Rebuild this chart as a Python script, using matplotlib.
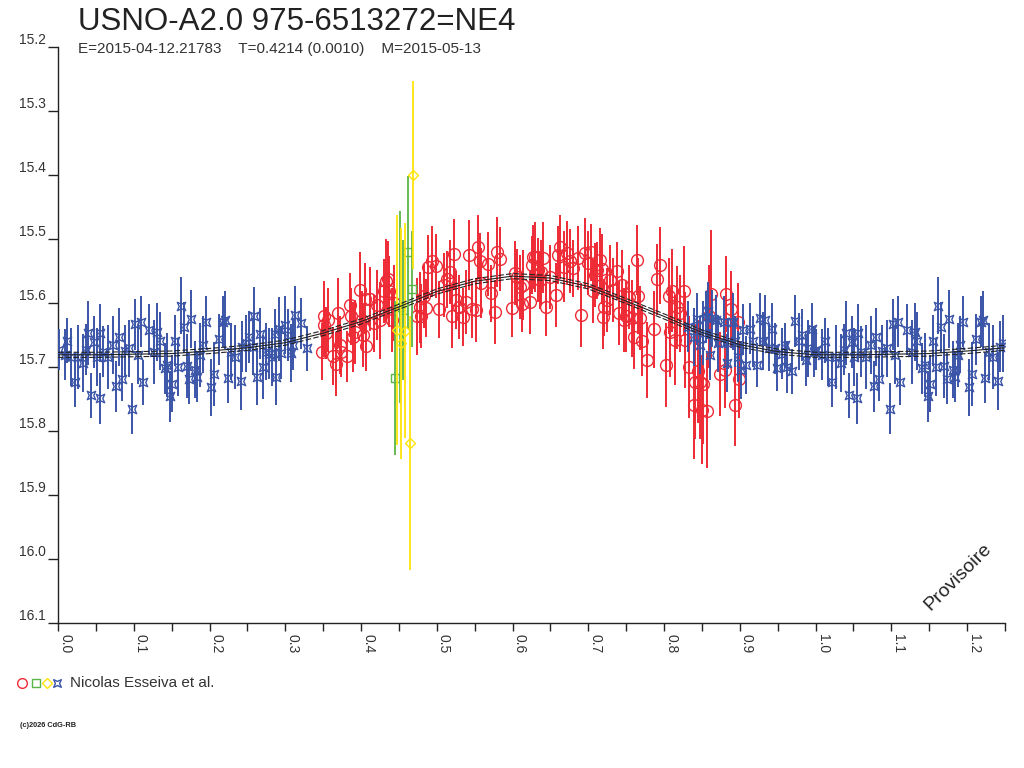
import numpy as np
import matplotlib
matplotlib.use("Agg")
import matplotlib.pyplot as plt
from matplotlib.path import Path
from matplotlib.lines import Line2D

plt.rcParams['font.family'] = ['Liberation Sans', 'DejaVu Sans']

# ---------------- data ----------------
title = "USNO-A2.0 975-6513272=NE4"
subtitle = "E=2015-04-12.21783    T=0.4214 (0.0010)    M=2015-05-13"
observer = "Nicolas Esseiva et al."
copyright_txt = "(c)2026 CdG-RB"
stamp = "Provisoire"

# blue series (phase 0 - 0.33)
blue_phase_a = [0.001, 0.009, 0.012, 0.017, 0.022, 0.027, 0.033, 0.037, 0.040, 0.044,
                0.048, 0.051, 0.055, 0.056, 0.060, 0.066, 0.073, 0.077, 0.080, 0.084,
                0.088, 0.094, 0.098, 0.102, 0.105, 0.109, 0.112, 0.120, 0.127, 0.131,
                0.134, 0.141, 0.144, 0.148, 0.151, 0.155, 0.159, 0.162, 0.166, 0.170,
                0.173, 0.176, 0.181, 0.184, 0.188, 0.191, 0.195, 0.202, 0.206, 0.212,
                0.218, 0.221, 0.224, 0.229, 0.234, 0.241, 0.243, 0.248, 0.252, 0.257,
                0.259, 0.263, 0.266, 0.271, 0.275, 0.279, 0.282, 0.286, 0.288, 0.292,
                0.295, 0.299, 0.303, 0.307, 0.310, 0.313, 0.321, 0.329]
blue_mag_a = [15.673, 15.681, 15.659, 15.684, 15.723, 15.684, 15.694, 15.673, 15.647, 15.744,
              15.661, 15.684, 15.749, 15.647, 15.676, 15.684, 15.666, 15.730, 15.653, 15.718,
              15.675, 15.671, 15.765, 15.633, 15.681, 15.629, 15.724, 15.642, 15.676, 15.645,
              15.659, 15.702, 15.697, 15.746, 15.726, 15.659, 15.700, 15.604, 15.638, 15.698,
              15.718, 15.625, 15.704, 15.715, 15.681, 15.665, 15.629, 15.732, 15.711, 15.657,
              15.629, 15.627, 15.717, 15.676, 15.684, 15.722, 15.668, 15.663, 15.653, 15.668,
              15.620, 15.715, 15.648, 15.700, 15.676, 15.679, 15.684, 15.649, 15.715, 15.640,
              15.678, 15.634, 15.650, 15.678, 15.665, 15.618, 15.632, 15.671]
blue_err_a = [0.032, 0.040, 0.035, 0.045, 0.040, 0.050, 0.045, 0.040, 0.050, 0.035,
              0.040, 0.045, 0.040, 0.045, 0.040, 0.050, 0.045, 0.040, 0.045, 0.035,
              0.040, 0.045, 0.040, 0.040, 0.045, 0.040, 0.035, 0.040, 0.050, 0.045,
              0.045, 0.040, 0.050, 0.040, 0.045, 0.040, 0.045, 0.045, 0.040, 0.050,
              0.040, 0.045, 0.045, 0.040, 0.050, 0.045, 0.040, 0.045, 0.050, 0.040,
              0.040, 0.045, 0.040, 0.045, 0.050, 0.045, 0.040, 0.045, 0.040, 0.045,
              0.045, 0.045, 0.040, 0.050, 0.045, 0.040, 0.045, 0.040, 0.045, 0.050,
              0.040, 0.045, 0.040, 0.045, 0.040, 0.045, 0.040, 0.035]

# blue series (phase 0.83 - 1.0)
blue_phase_b = [0.831, 0.839, 0.844, 0.847, 0.852, 0.855, 0.858, 0.861, 0.863, 0.868,
                0.871, 0.879, 0.883, 0.885, 0.891, 0.894, 0.898, 0.901, 0.904, 0.908,
                0.913, 0.918, 0.922, 0.926, 0.930, 0.933, 0.938, 0.942, 0.946, 0.949,
                0.955, 0.959, 0.962, 0.969, 0.973, 0.978, 0.982, 0.987, 0.990, 0.995,
                0.998]
blue_mag_b = [15.637, 15.653, 15.625, 15.666, 15.647, 15.622, 15.612, 15.681, 15.624, 15.627,
              15.663, 15.629, 15.694, 15.663, 15.629, 15.660, 15.684, 15.705, 15.642, 15.697,
              15.640, 15.660, 15.697, 15.624, 15.659, 15.627, 15.671, 15.640, 15.671, 15.702,
              15.679, 15.666, 15.700, 15.707, 15.628, 15.660, 15.650, 15.689, 15.671, 15.640,
              15.676]
blue_err_b = [0.040, 0.045, 0.040, 0.045, 0.050, 0.040, 0.045, 0.040, 0.045, 0.040,
              0.045, 0.040, 0.045, 0.040, 0.045, 0.040, 0.040, 0.045, 0.040, 0.045,
              0.040, 0.040, 0.035, 0.040, 0.045, 0.040, 0.035, 0.040, 0.040, 0.035,
              0.040, 0.035, 0.040, 0.035, 0.040, 0.045, 0.040, 0.040, 0.045, 0.040,
              0.040]

# red series
red_phase = [0.348, 0.351, 0.351, 0.354, 0.357, 0.363, 0.367, 0.370, 0.372, 0.374,
             0.381, 0.385, 0.387, 0.389, 0.392, 0.398, 0.401, 0.403, 0.405, 0.407,
             0.412, 0.417, 0.421, 0.425, 0.430, 0.433, 0.436, 0.437, 0.441, 0.443,
             0.474, 0.478, 0.479, 0.483, 0.486, 0.489, 0.494, 0.499, 0.503, 0.510,
             0.514, 0.517, 0.520, 0.523, 0.526, 0.529, 0.534, 0.539, 0.542, 0.546,
             0.552, 0.555, 0.557, 0.559, 0.568, 0.571, 0.577, 0.579, 0.584, 0.599,
             0.603, 0.606, 0.610, 0.612, 0.614, 0.623, 0.626, 0.627, 0.630, 0.634,
             0.636, 0.638, 0.640, 0.644, 0.649, 0.657, 0.660, 0.663, 0.668, 0.672,
             0.676, 0.680, 0.687, 0.690, 0.696, 0.700, 0.703, 0.706, 0.709, 0.712,
             0.716, 0.718, 0.719, 0.721, 0.725, 0.729, 0.733, 0.738, 0.740, 0.744,
             0.747, 0.750, 0.754, 0.758, 0.760, 0.764, 0.766, 0.768, 0.771, 0.777,
             0.787, 0.791, 0.795, 0.803, 0.806, 0.808, 0.810, 0.815, 0.817, 0.821,
             0.826, 0.828, 0.833, 0.839, 0.841, 0.845, 0.847, 0.850, 0.852, 0.856,
             0.859, 0.862, 0.874, 0.880, 0.882, 0.888, 0.893, 0.897, 0.899]
red_mag = [15.676, 15.634, 15.621, 15.647, 15.627, 15.683, 15.695, 15.616, 15.666, 15.676,
           15.683, 15.603, 15.621, 15.653, 15.645, 15.580, 15.627, 15.650, 15.593, 15.667,
           15.593, 15.632, 15.603, 15.627, 15.581, 15.565, 15.563, 15.582, 15.626, 15.600,
           15.621, 15.607, 15.620, 15.589, 15.608, 15.543, 15.535, 15.542, 15.610, 15.572,
           15.563, 15.552, 15.621, 15.523, 15.595, 15.607, 15.622, 15.598, 15.525, 15.610,
           15.611, 15.513, 15.535, 15.569, 15.539, 15.585, 15.614, 15.520, 15.532, 15.608,
           15.553, 15.560, 15.575, 15.601, 15.572, 15.599, 15.541, 15.528, 15.528, 15.549,
           15.564, 15.551, 15.529, 15.606, 15.559, 15.588, 15.525, 15.512, 15.543, 15.522,
           15.535, 15.546, 15.529, 15.619, 15.522, 15.537, 15.521, 15.582, 15.556, 15.549,
           15.533, 15.547, 15.622, 15.607, 15.595, 15.564, 15.580, 15.550, 15.616, 15.572,
           15.627, 15.621, 15.590, 15.624, 15.653, 15.533, 15.589, 15.624, 15.659, 15.689,
           15.641, 15.563, 15.541, 15.697, 15.589, 15.645, 15.581, 15.658, 15.607, 15.616,
           15.581, 15.658, 15.700, 15.759, 15.723, 15.707, 15.723, 15.767, 15.726, 15.768,
           15.621, 15.586, 15.711, 15.704, 15.586, 15.610, 15.759, 15.629, 15.719]
red_err = [0.045, 0.050, 0.055, 0.040, 0.050, 0.045, 0.050, 0.055, 0.045, 0.040,
           0.040, 0.050, 0.045, 0.055, 0.050, 0.060, 0.045, 0.050, 0.055, 0.040,
           0.050, 0.045, 0.055, 0.060, 0.050, 0.065, 0.060, 0.055, 0.050, 0.060,
           0.060, 0.055, 0.050, 0.050, 0.045, 0.050, 0.055, 0.050, 0.045, 0.050,
           0.045, 0.050, 0.050, 0.055, 0.045, 0.050, 0.045, 0.050, 0.055, 0.045,
           0.050, 0.050, 0.045, 0.055, 0.050, 0.045, 0.050, 0.055, 0.050, 0.045,
           0.050, 0.045, 0.050, 0.045, 0.055, 0.050, 0.045, 0.050, 0.055, 0.050,
           0.045, 0.050, 0.055, 0.045, 0.050, 0.050, 0.045, 0.050, 0.055, 0.050,
           0.050, 0.045, 0.050, 0.050, 0.055, 0.050, 0.045, 0.050, 0.050, 0.045,
           0.050, 0.055, 0.050, 0.045, 0.050, 0.055, 0.050, 0.045, 0.050, 0.055,
           0.050, 0.055, 0.050, 0.060, 0.050, 0.055, 0.060, 0.050, 0.055, 0.060,
           0.060, 0.055, 0.060, 0.065, 0.060, 0.070, 0.065, 0.070, 0.065, 0.060,
           0.070, 0.075, 0.080, 0.085, 0.090, 0.080, 0.090, 0.085, 0.095, 0.090,
           0.080, 0.100, 0.065, 0.060, 0.060, 0.060, 0.065, 0.060, 0.060]

# green series
green_phase = [0.445, 0.451, 0.455, 0.462, 0.467]
green_mag = [15.717, 15.606, 15.611, 15.521, 15.578]
green_err = [0.120, 0.150, 0.110, 0.120, 0.090]

# yellow series
yellow_phase = [0.447, 0.453, 0.458, 0.465, 0.469]
yellow_mag = [15.642, 15.663, 15.643, 15.819, 15.400]
yellow_err = [0.180, 0.180, 0.168, 0.198, 0.147]

# fitted light curve
fit_phase = [0.00, 0.05, 0.10, 0.15, 0.20, 0.25, 0.30, 0.35, 0.40, 0.45, 0.50,
             0.55, 0.60, 0.65, 0.70, 0.75, 0.80, 0.85, 0.90, 0.95, 1.00]
fit_mag = [15.681, 15.681, 15.680, 15.679, 15.675, 15.670, 15.662, 15.647, 15.629, 15.606,
           15.582, 15.566, 15.558, 15.561, 15.574, 15.597, 15.621, 15.646, 15.665, 15.676,
           15.681]
fit_band = 0.004

y_ticks = [15.2, 15.3, 15.4, 15.5, 15.6, 15.7, 15.8, 15.9, 16.0, 16.1]
x_ticks = [0.0, 0.1, 0.2, 0.3, 0.4, 0.5, 0.6, 0.7, 0.8, 0.9, 1.0, 1.1, 1.2]
x_max = 1.25

# ---------------- colours ----------------
RED = '#ee2a35'
BLUE = '#3a54a8'
GREEN = '#5cb547'
YELLOW = '#ffe40a'

# blue marker: concave square (like the original glyph)
bverts = [(-1, -1), (0, -0.55), (1, -1), (0.55, 0), (1, 1), (0, 0.55), (-1, 1), (-0.55, 0), (-1, -1)]
bcodes = [Path.MOVETO] + [Path.LINETO] * 7 + [Path.CLOSEPOLY]
blue_marker = Path(bverts, bcodes)

# ---------------- figure ----------------
fig = plt.figure(figsize=(10.24, 7.68), dpi=100)
ax = fig.add_axes([58 / 1024, 1 - 623 / 768, (1005 - 58) / 1024, (623 - 47) / 768])

# assemble folded data, repeated beyond phase 1
bp = np.array(blue_phase_a + blue_phase_b)
bm = np.array(blue_mag_a + blue_mag_b)
be = np.array(blue_err_a + blue_err_b)
rep = bp < (x_max - 1.0)
bp_all = np.concatenate([bp, bp[rep] + 1.0])
bm_all = np.concatenate([bm, bm[rep]])
be_all = np.concatenate([be, be[rep]])

fp = np.array(fit_phase)
fm = np.array(fit_mag)
frep = fp[1:] <= (x_max - 1.0) + 1e-9
fp_all = np.concatenate([fp, fp[1:][frep] + 1.0])
fm_all = np.concatenate([fm, fm[1:][frep]])

# red
ax.errorbar(red_phase, red_mag, yerr=red_err, fmt='o', ms=8.5, mfc='none', mec=RED,
            mew=1.0, ecolor=RED, elinewidth=1.4, capsize=0, zorder=2)
# blue
ax.errorbar(bp_all, bm_all, yerr=be_all, fmt='none', ecolor=BLUE, elinewidth=1.4,
            capsize=0, zorder=3)
ax.plot(bp_all, bm_all, linestyle='none', marker=blue_marker, ms=6, mfc='none',
        mec=BLUE, mew=1.0, zorder=3.1)
# green
ax.errorbar(green_phase, green_mag, yerr=green_err, fmt='s', ms=5.5, mfc='none', mec=GREEN,
            mew=1.0, ecolor=GREEN, elinewidth=1.3, capsize=0, zorder=4)
# yellow
ax.errorbar(yellow_phase, yellow_mag, yerr=yellow_err, fmt='D', ms=5, mfc='none', mec=YELLOW,
            mew=1.0, ecolor=YELLOW, elinewidth=1.3, capsize=0, zorder=5)

# fit lines
ax.plot(fp_all, fm_all, color='#222222', lw=0.8, zorder=6)
ax.plot(fp_all, fm_all - fit_band, color='#222222', lw=0.8, ls=(0, (5, 2)), zorder=6)
ax.plot(fp_all, fm_all + fit_band, color='#222222', lw=0.8, ls=(0, (5, 2)), zorder=6)

# axes
ax.set_xlim(0, x_max)
ax.set_ylim(16.1, 15.2)
for s in ['top', 'right']:
    ax.spines[s].set_visible(False)
for s in ['left', 'bottom']:
    ax.spines[s].set_linewidth(1.0)
    ax.spines[s].set_color('#222222')

ax.set_yticks(y_ticks)
ax.set_yticklabels(['%.1f' % v for v in y_ticks])
ax.set_xticks(x_ticks)
ax.set_xticks([v + 0.05 for v in x_ticks], minor=True)
ax.set_xticklabels(['%.1f' % v for v in x_ticks])
ax.tick_params(axis='y', direction='out', length=7, width=1, pad=1.5,
               labelsize=10, labelcolor='#333333', color='#222222')
ax.tick_params(axis='x', which='both', direction='out', length=6, width=1, pad=2,
               labelsize=10, labelcolor='#333333', color='#222222')
for lab in ax.get_yticklabels():
    lab.set_verticalalignment('bottom')
for lab in ax.get_xticklabels():
    lab.set_rotation(-90)
    lab.set_horizontalalignment('left')
    lab.set_verticalalignment('top')

# texts
fig.text(78 / 1024, 1 - 30 / 768, title, fontsize=22.5, color='#222222', ha='left', va='baseline')
fig.text(78 / 1024, 1 - 53 / 768, subtitle, fontsize=11, color='#333333', ha='left', va='baseline')
fig.text(958 / 1024, 1 - 577 / 768, stamp, fontsize=14, color='#222222', rotation=45,
         ha='center', va='center')

# legend
lx = [22, 36, 47, 57]
lmk = ['o', 's', 'D', blue_marker]
lcol = [RED, GREEN, YELLOW, BLUE]
lms = [7, 5.5, 5, 5.5]
for x, m, c, s in zip(lx, lmk, lcol, lms):
    fig.add_artist(Line2D([x / 1024], [1 - 683 / 768], transform=fig.transFigure,
                          marker=m, ms=s, mfc='none', mec=c, mew=1.0, linestyle='none'))
fig.text(70 / 1024, 1 - 687 / 768, observer, fontsize=11, color='#333333', ha='left', va='baseline')
fig.text(20 / 1024, 1 - 727 / 768, copyright_txt, fontsize=5.3, color='#222222', ha='left',
         va='baseline', fontweight='bold')

fig.savefig('out.png', dpi=100)
